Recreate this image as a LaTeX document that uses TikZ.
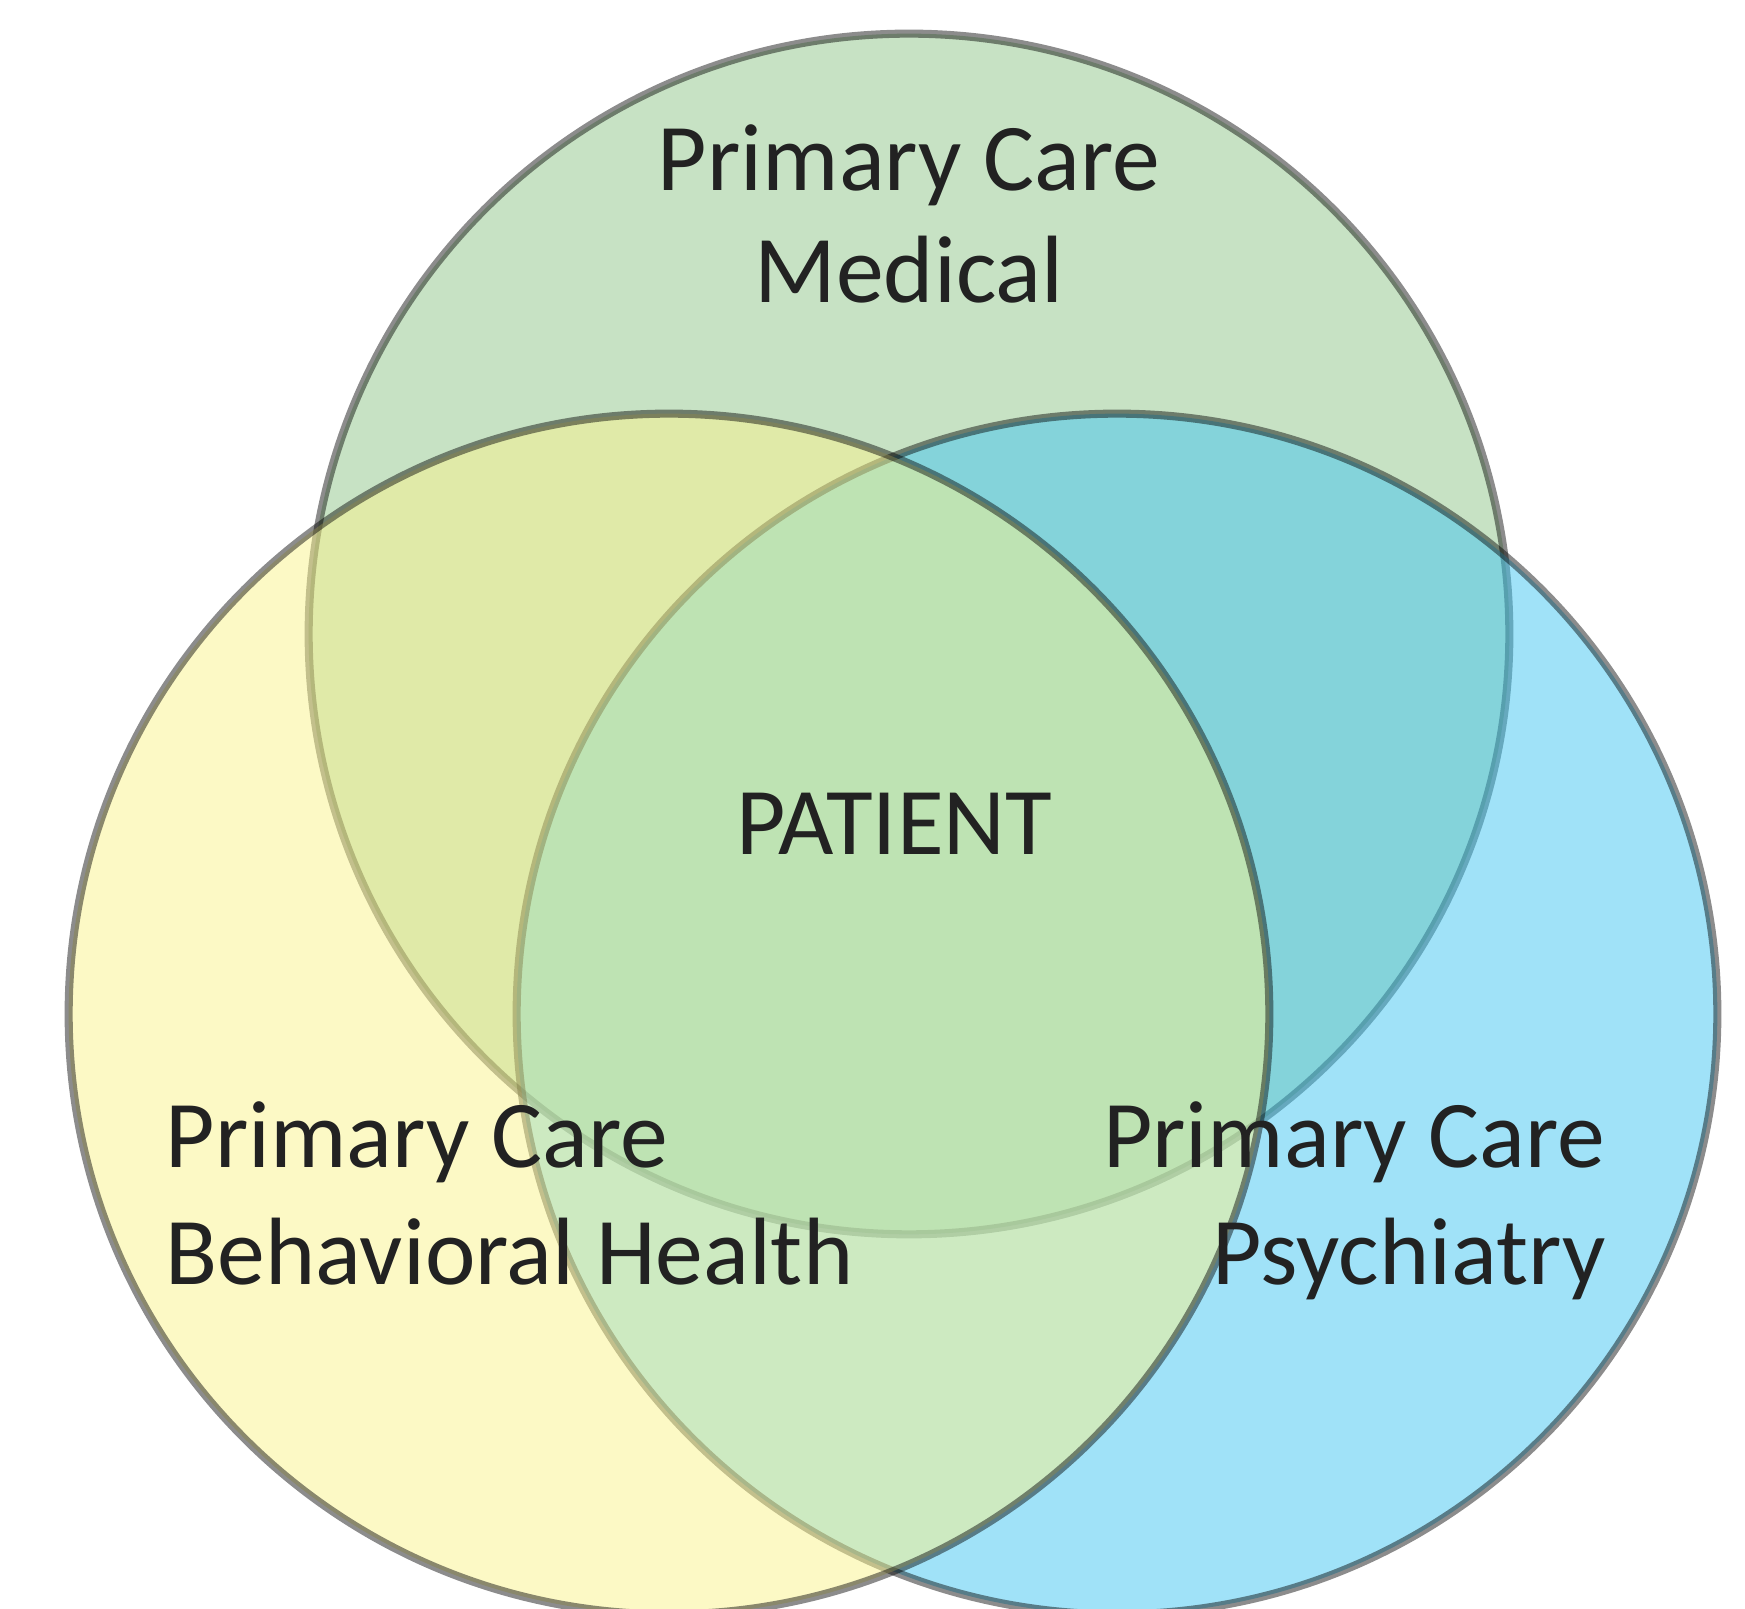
\documentclass[tikz,border=0pt]{standalone}
\usepackage{fontspec}
\setmainfont{Carlito}
\usetikzlibrary{positioning}
\definecolor{medgreen}{RGB}{143,197,137}
\definecolor{bhyellow}{RGB}{250,243,140}
\definecolor{psyblue}{RGB}{65,197,241}
\definecolor{labelgray}{RGB}{34,34,34}
\tikzset{
    venn/.style={circle,minimum size=12cm,inner sep=0pt,fill=#1,fill opacity=0.5,
        draw=black,draw opacity=0.45,line width=2.3pt},
    venn label/.style={text=labelgray,font=\fontsize{27.2pt}{36pt}\selectfont,inner sep=0pt}
}
\begin{document}
\begin{tikzpicture}[x=0.01cm,y=0.01cm]
    \useasboundingbox (0,0) rectangle (1745,1609);
    % circles: top first, then right, then left on top
    \node[venn=medgreen] (medical) at (909,975) {};
    \node[venn=psyblue] (psychiatry) at (1117,595) {};
    \node[venn=bhyellow] (behavioral) at (669,595) {};

    \node[venn label,anchor=base] (medtext) at (909,1418) {Primary Care};
    \node[venn label,anchor=base] (medtext2) at (909,1306) {Medical};
    \node[venn label,anchor=base] (patient) at (894,754) {PATIENT};
    \node[venn label,anchor=base west] (bhtext) at (165,441) {Primary Care};
    \node[venn label,anchor=base west] (bhtext2) at (165,324) {Behavioral Health};
    \node[venn label,anchor=base east] (psytext) at (1606,441) {Primary Care};
    \node[venn label,anchor=base east] (psytext2) at (1606,324) {Psychiatry};
\end{tikzpicture}
\end{document}
